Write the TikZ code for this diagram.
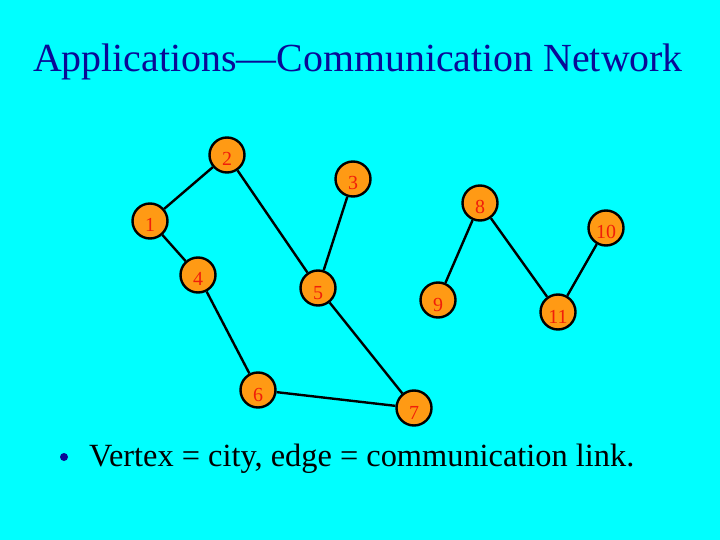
\documentclass[tikz,border=0pt]{standalone}
\usepackage{fontspec}
\setmainfont{Liberation Serif}
\usepackage{xcolor}
\usetikzlibrary{positioning, backgrounds}

\definecolor{slidebg}{HTML}{00FFFF}
\definecolor{titleblue}{HTML}{0A0A96}
\definecolor{cityfill}{HTML}{FF9A14}
\definecolor{cityred}{HTML}{F01E0A}

\begin{document}
\begin{tikzpicture}[
  x=1bp, y=-1bp,
  city/.style={circle, draw=black, line width=2.4bp, fill=cityfill, minimum size=35bp,
    inner sep=0pt, text=cityred, font=\fontsize{20}{20}\selectfont, text height=22bp, text depth=0pt},
  link/.style={line width=2.4bp, black},
  lbl/.style={anchor=base west, inner sep=0pt}
]
  \fill[slidebg] (0,0) rectangle (720,540);
  \useasboundingbox (0,0) rectangle (720,540);

  \node[anchor=base, inner sep=0pt, text=titleblue, font=\fontsize{40}{40}\selectfont] (title) at (358,72)
    {Applications---Communication Network};

  % cities
  \node[city] (c1) at (150,221) {1};
  \node[city] (c2) at (227,155) {2};
  \node[city] (c3) at (353,179) {3};
  \node[city] (c4) at (198,275) {4};
  \node[city] (c5) at (318,288) {5};
  \node[city] (c6) at (258,390) {6};
  \node[city] (c7) at (414,408) {7};
  \node[city] (c8) at (480,203) {8};
  \node[city] (c9) at (438,300) {9};
  \node[city] (c10) at (606,228) {10};
  \node[city] (c11) at (558,312) {11};

  % links
  \draw[link] (c1) -- (c2);
  \draw[link] (c1) -- (c4);
  \draw[link] (c2) -- (c5);
  \draw[link] (c3) -- (c5);
  \draw[link] (c4) -- (c6);
  \draw[link] (c6) -- (c7);
  \draw[link] (c5) -- (c7);
  \draw[link] (c8) -- (c9);
  \draw[link] (c8) -- (c11);
  \draw[link] (c10) -- (c11);

  \node[circle, fill=titleblue, inner sep=0pt, minimum size=8bp] (dot) at (64,457) {};
  \node[lbl, font=\fontsize{32.5}{32.5}\selectfont] (caption) at (89,466)
    {Vertex = city, edge = communication link.};
\end{tikzpicture}
\end{document}
